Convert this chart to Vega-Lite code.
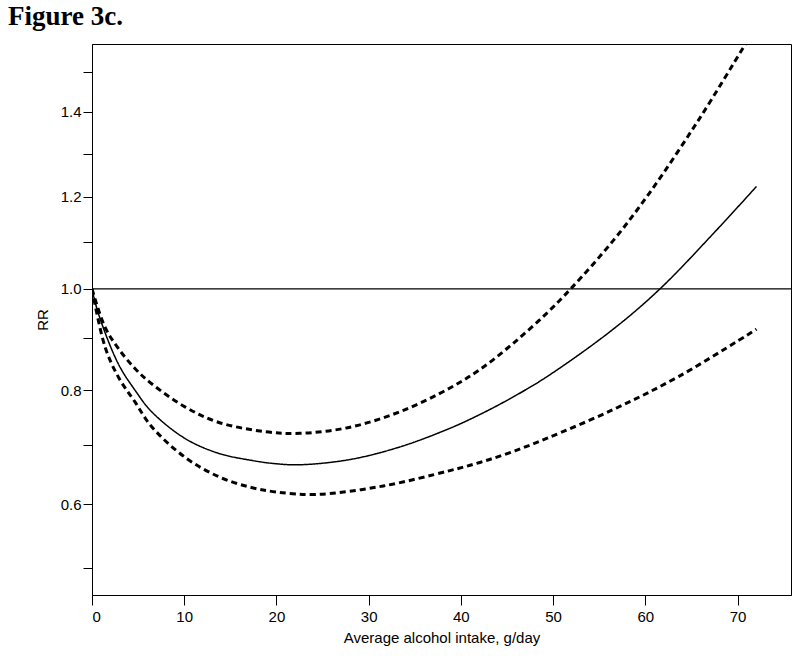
{
  "$schema": "https://vega.github.io/schema/vega-lite/v6.json",
  "width": 699,
  "height": 551,
  "autosize": {"type": "none"},
  "padding": {"left": 92, "top": 44, "right": 9, "bottom": 65},
  "background": "white",
  "title": {"text": "Figure 3c.", "font": "Liberation Serif", "fontSize": 27, "fontWeight": "bold", "anchor": "start", "frame": "group", "dx": -84, "offset": 13, "color": "black"},
  "config": {
    "view": {"stroke": "black", "strokeWidth": 1},
    "axis": {"grid": false, "labelFont": "Liberation Sans", "titleFont": "Liberation Sans", "labelFontSize": 15, "titleFontSize": 15, "titleFontWeight": "normal", "labelColor": "black", "titleColor": "black", "domainColor": "black", "tickColor": "black"}
  },
  "datasets": {
    "curves": [
      {"series": "estimate", "x": 0, "rr": 1.0},
      {"series": "estimate", "x": 0.7, "rr": 0.949},
      {"series": "estimate", "x": 2.85, "rr": 0.85},
      {"series": "estimate", "x": 4.66, "rr": 0.8},
      {"series": "estimate", "x": 6.47, "rr": 0.76},
      {"series": "estimate", "x": 10.08, "rr": 0.712},
      {"series": "estimate", "x": 13.69, "rr": 0.686},
      {"series": "estimate", "x": 17.13, "rr": 0.674},
      {"series": "estimate", "x": 19.8, "rr": 0.668},
      {"series": "estimate", "x": 22.55, "rr": 0.666},
      {"series": "estimate", "x": 27.97, "rr": 0.675},
      {"series": "estimate", "x": 33.39, "rr": 0.697},
      {"series": "estimate", "x": 38.81, "rr": 0.73},
      {"series": "estimate", "x": 42.06, "rr": 0.755},
      {"series": "estimate", "x": 45.32, "rr": 0.784},
      {"series": "estimate", "x": 49.3, "rr": 0.825},
      {"series": "estimate", "x": 56.52, "rr": 0.918},
      {"series": "estimate", "x": 61.58, "rr": 1.0},
      {"series": "estimate", "x": 67.36, "rr": 1.118},
      {"series": "estimate", "x": 72.06, "rr": 1.224},
      {"series": "upper", "x": 0, "rr": 1.0},
      {"series": "upper", "x": 1.41, "rr": 0.922},
      {"series": "upper", "x": 2.85, "rr": 0.88},
      {"series": "upper", "x": 4.66, "rr": 0.841},
      {"series": "upper", "x": 6.47, "rr": 0.812},
      {"series": "upper", "x": 10.08, "rr": 0.769},
      {"series": "upper", "x": 13.69, "rr": 0.741},
      {"series": "upper", "x": 18.76, "rr": 0.724},
      {"series": "upper", "x": 22.55, "rr": 0.721},
      {"series": "upper", "x": 27.97, "rr": 0.732},
      {"series": "upper", "x": 33.39, "rr": 0.76},
      {"series": "upper", "x": 38.81, "rr": 0.804},
      {"series": "upper", "x": 42.06, "rr": 0.839},
      {"series": "upper", "x": 45.68, "rr": 0.89},
      {"series": "upper", "x": 49.3, "rr": 0.95},
      {"series": "upper", "x": 51.9, "rr": 1.0},
      {"series": "upper", "x": 56.52, "rr": 1.103},
      {"series": "upper", "x": 60.49, "rr": 1.21},
      {"series": "upper", "x": 65.91, "rr": 1.385},
      {"series": "upper", "x": 70.61, "rr": 1.56},
      {"series": "upper", "x": 72.06, "rr": 1.615},
      {"series": "lower", "x": 0, "rr": 1.0},
      {"series": "lower", "x": 1.41, "rr": 0.883},
      {"series": "lower", "x": 2.85, "rr": 0.825},
      {"series": "lower", "x": 4.66, "rr": 0.778},
      {"series": "lower", "x": 6.47, "rr": 0.733},
      {"series": "lower", "x": 10.08, "rr": 0.679},
      {"series": "lower", "x": 13.69, "rr": 0.646},
      {"series": "lower", "x": 17.13, "rr": 0.628},
      {"series": "lower", "x": 20.0, "rr": 0.62},
      {"series": "lower", "x": 24.36, "rr": 0.616},
      {"series": "lower", "x": 31.58, "rr": 0.63},
      {"series": "lower", "x": 38.81, "rr": 0.656},
      {"series": "lower", "x": 42.06, "rr": 0.67},
      {"series": "lower", "x": 45.32, "rr": 0.687},
      {"series": "lower", "x": 49.3, "rr": 0.712},
      {"series": "lower", "x": 56.52, "rr": 0.764},
      {"series": "lower", "x": 63.75, "rr": 0.827},
      {"series": "lower", "x": 72.06, "rr": 0.918}
    ],
    "ref": [{"rr": 1.0}]
  },
  "layer": [
    {
      "data": {"name": "ref"},
      "mark": {"type": "rule", "color": "black", "strokeWidth": 1.2},
      "encoding": {
        "y": {"field": "rr", "type": "quantitative", "title": "RR"}
      }
    },
    {
      "data": {"name": "curves"},
      "mark": {"type": "line", "clip": true, "interpolate": "catmull-rom", "color": "black"},
      "encoding": {
        "x": {"field": "x", "type": "quantitative", "title": "Average alcohol intake, g/day", "scale": {"domain": [0, 75.8], "nice": false, "zero": false}, "axis": {"values": [0, 10, 20, 30, 40, 50, 60, 70], "tickSize": 10, "labelPadding": 4, "titlePadding": 6}},
        "y": {"field": "rr", "type": "quantitative", "title": "RR", "scale": {"type": "pow", "exponent": 0.53, "domain": [0.46, 1.57], "nice": false, "zero": false}, "axis": {"values": [0.5, 0.6, 0.7, 0.8, 0.9, 1.0, 1.1, 1.2, 1.3, 1.4, 1.5], "labelExpr": "round(datum.value*10) % 2 == 0 ? format(datum.value, '.1f') : ''", "tickSize": 9, "labelPadding": 2, "titlePadding": 10}},
        "detail": {"field": "series"},
        "strokeDash": {"field": "series", "type": "nominal", "scale": {"domain": ["estimate", "lower", "upper"], "range": [[1, 0], [6, 4], [6, 4]]}, "legend": null},
        "strokeWidth": {"field": "series", "type": "nominal", "scale": {"type": "ordinal", "domain": ["estimate", "lower", "upper"], "range": [1.5, 3, 3]}, "legend": null}
      }
    }
  ]
}
